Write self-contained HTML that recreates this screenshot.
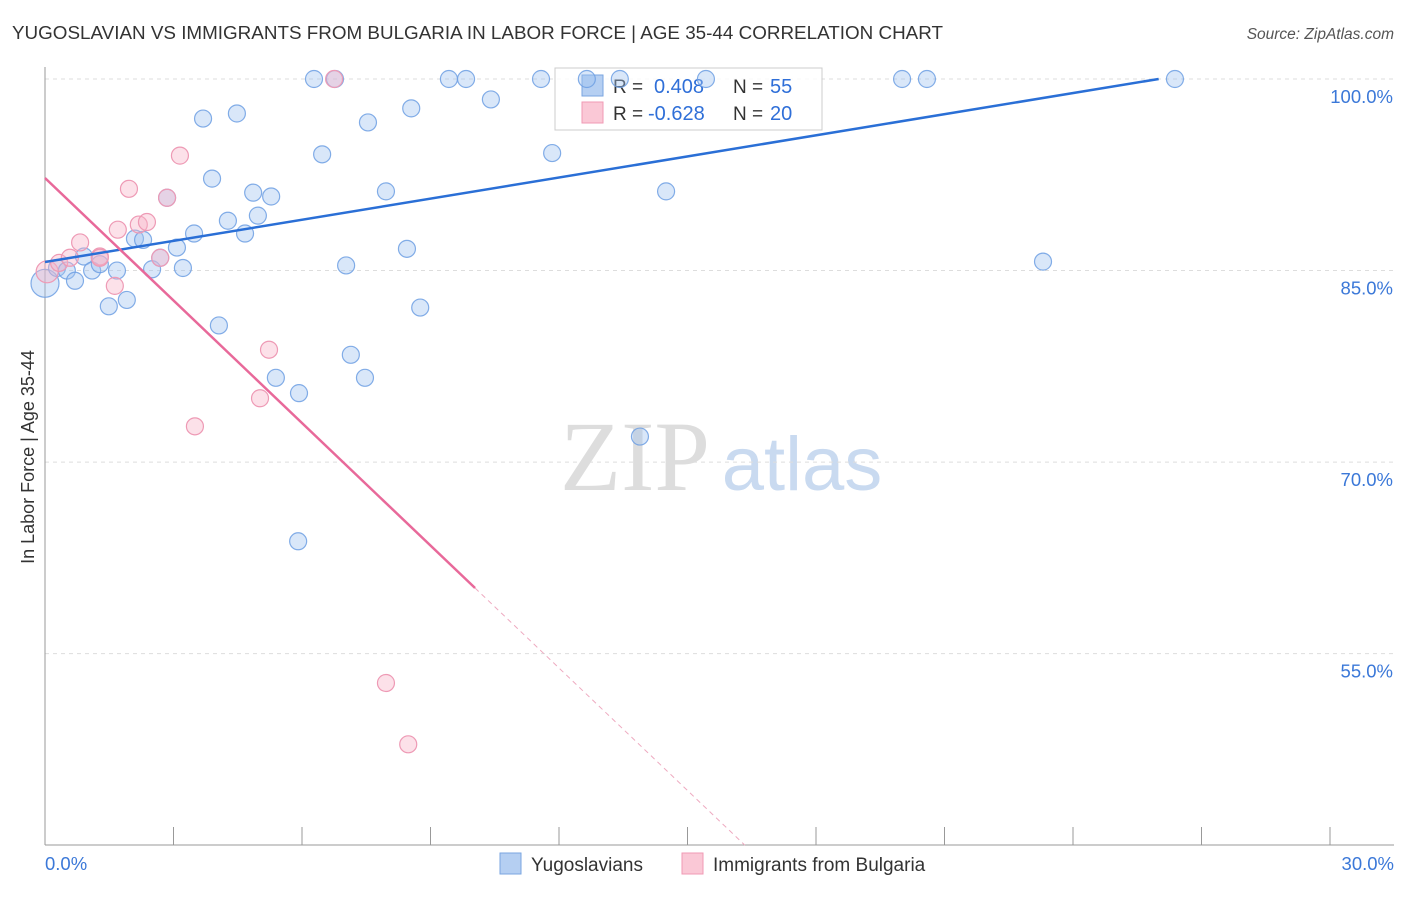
<!DOCTYPE html>
<html><head><meta charset="utf-8"><style>
body{margin:0;background:#fff;font-family:"Liberation Sans",sans-serif}
</style></head><body>
<svg width="1406" height="892" xmlns="http://www.w3.org/2000/svg">
<text x="12" y="39" font-size="18.5" fill="#333" textLength="931" lengthAdjust="spacingAndGlyphs">YUGOSLAVIAN VS IMMIGRANTS FROM BULGARIA IN LABOR FORCE | AGE 35-44 CORRELATION CHART</text>
<text x="1394" y="39" font-size="15.5" fill="#555" font-style="italic" text-anchor="end">Source: ZipAtlas.com</text>
<g>
<text x="635" y="490" font-size="100" font-family="Liberation Serif,serif" fill="#ddd" text-anchor="middle">ZIP</text>
<text x="802" y="490" font-size="76" fill="#c9daf0" text-anchor="middle">atlas</text>
</g>
<g id="grid"></g><g id="axes"></g>
<g>
<rect x="555" y="68" width="267" height="62" fill="#fff" fill-opacity="0.8" stroke="#ccc"/>
<rect x="582" y="75" width="21" height="21" fill="#b5cff2" stroke="#7aa6e0"/>
<rect x="582" y="102" width="21" height="21" fill="#fac8d6" stroke="#f09ab4"/>
<text x="613" y="93" font-size="19" fill="#333">R = </text><text x="654" y="93" font-size="20" fill="#2f6fd8">0.408</text>
<text x="733" y="93" font-size="19" fill="#333">N = </text><text x="770" y="93" font-size="20" fill="#2f6fd8">55</text>
<text x="613" y="120" font-size="19" fill="#333">R = </text><text x="648" y="120" font-size="20" fill="#2f6fd8">-0.628</text>
<text x="733" y="120" font-size="19" fill="#333">N = </text><text x="770" y="120" font-size="20" fill="#2f6fd8">20</text>
</g>
<g id="marks"></g>
<text transform="translate(34,457) rotate(-90)" font-size="18" fill="#333" text-anchor="middle">In Labor Force | Age 35-44</text>
<g>
<rect x="500" y="853" width="21" height="21" fill="#b5cff2" stroke="#7aa6e0"/>
<text x="531" y="871" font-size="19" fill="#333">Yugoslavians</text>
<rect x="682" y="853" width="21" height="21" fill="#fac8d6" stroke="#f09ab4"/>
<text x="713" y="871" font-size="19" fill="#333">Immigrants from Bulgaria</text>
</g>
</svg>
<script>
const xTicks=[0,3,6,9,12,15,18,21,24,27,30];
const yTicks=[100,85,70,55];
const yTickLabels=["100.0%","85.0%","70.0%","55.0%"];
const blueX=[0,0.28,0.51,0.70,0.91,1.10,1.28,1.49,1.68,1.91,2.10,2.29,2.50,2.69,2.85,3.08,3.22,3.48,3.69,3.90,4.06,4.27,4.48,4.67,4.86,4.97,5.28,5.39,5.93,5.91,6.28,6.47,6.77,7.03,7.14,7.47,7.54,7.96,8.45,8.55,8.76,9.43,9.83,10.41,11.58,11.84,12.65,13.42,13.89,14.50,15.43,20.01,20.59,23.30,26.38];
const blueY=[84.0,85.2,85.0,84.2,86.1,85.0,85.5,82.2,85.0,82.7,87.5,87.4,85.1,86.0,90.7,86.8,85.2,87.9,96.9,92.2,80.7,88.9,97.3,87.9,91.1,89.3,90.8,76.6,75.4,63.8,100,94.1,100,85.4,78.4,76.6,96.6,91.2,86.7,97.7,82.1,100,100,98.4,100,94.2,100,100,72.0,91.2,100,100,100,85.7,100];
const pinkX=[0.05,0.33,0.58,0.82,1.28,1.63,1.70,1.96,2.19,2.38,2.69,2.85,3.15,3.50,5.02,5.23,6.75,7.96,8.48,1.28];
const pinkY=[84.9,85.6,86.0,87.2,86.1,83.8,88.2,91.4,88.6,88.8,86.0,90.7,94.0,72.8,75.0,78.8,100,52.7,47.9,86.0];
const blueTrend=[[0,85.67],[26.0,100]];
const pinkTrend=[[0,92.25],[10.04,60.14]];
const pinkTrendExt=[[10.04,60.14],[16.34,40]];
const NS="http://www.w3.org/2000/svg";
const X=v=>45+v*(1330-45)/30;
const Y=v=>79+(100-v)*12.77;
function mk(tag,attrs,parent){const e=document.createElementNS(NS,tag);for(const k in attrs)e.setAttribute(k,attrs[k]);document.getElementById(parent).appendChild(e);return e;}
yTicks.forEach((t,i)=>{
 const g=mk('line',{x1:45,x2:1394,y1:Y(t),y2:Y(t),stroke:'#ddd','stroke-dasharray':'4,4'},'grid');
 
 
 const l=mk('text',{x:1393,y:Y(t)+24,'font-size':18.5,fill:'#3b78d8','text-anchor':'end'},'grid');
 l.textContent=yTickLabels[i];
 
 
});
const ya=mk('line',{x1:45,x2:45,y1:67,y2:845,stroke:'#999'},'axes');


const xa=mk('line',{x1:45,x2:1394,y1:845,y2:845,stroke:'#999'},'axes');


xTicks.forEach(t=>{
 const tk=mk('line',{x1:X(t),x2:X(t),y1:827,y2:845,stroke:'#999'},'axes');
 
 
});
const xl0=mk('text',{x:45,y:870,'font-size':18.5,fill:'#3b78d8'},'axes');xl0.textContent='0.0%';


const xl1=mk('text',{x:1394,y:870,'font-size':18.5,fill:'#3b78d8','text-anchor':'end'},'axes');xl1.textContent='30.0%';


blueX.forEach((v,i)=>{
 const c=mk('circle',{cx:X(v),cy:Y(blueY[i]),r:i===0?14:8.5,fill:'rgba(160,195,240,0.4)',stroke:'#6d9fe3','stroke-width':1.2,'stroke-opacity':0.85},'marks');
 
 
});
pinkX.forEach((v,i)=>{
 const c=mk('circle',{cx:X(v),cy:Y(pinkY[i]),r:i===0?11:8.5,fill:'rgba(248,180,200,0.4)',stroke:'#ee9ab5','stroke-width':1.2},'marks');
 
 
});
const bl=mk('line',{x1:X(blueTrend[0][0]),y1:Y(blueTrend[0][1]),x2:X(blueTrend[1][0]),y2:Y(blueTrend[1][1]),stroke:'#2a6fd6','stroke-width':2.5},'marks');


const pl=mk('line',{x1:X(pinkTrend[0][0]),y1:Y(pinkTrend[0][1]),x2:X(pinkTrend[1][0]),y2:Y(pinkTrend[1][1]),stroke:'#e8699a','stroke-width':2.5},'marks');


const pd=mk('line',{x1:X(pinkTrendExt[0][0]),y1:Y(pinkTrendExt[0][1]),x2:X(pinkTrendExt[1][0]),y2:Y(pinkTrendExt[1][1]),stroke:'#eeaac0','stroke-width':1,'stroke-dasharray':'5,4'},'marks');


</script>
</body></html>
